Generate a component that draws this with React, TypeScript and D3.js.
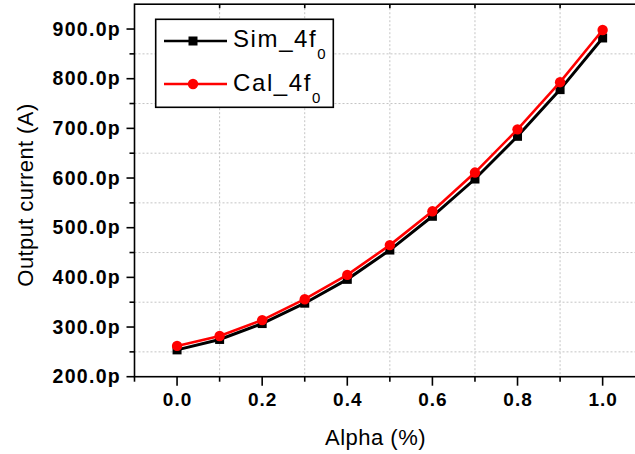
import React from "react";
import * as d3 from "d3";

const alpha = [0.0, 0.1, 0.2, 0.3, 0.4, 0.5, 0.6, 0.7, 0.8, 0.9, 1.0];
const simValues = [254, 275, 307, 348, 396, 455, 523, 598, 684, 778, 882];
const calValues = [262, 282, 314, 356, 405, 465, 533, 611, 698, 793, 898];
const xTickValues = [0.0, 0.2, 0.4, 0.6, 0.8, 1.0];
const xMinorValues = [-0.1, 0.1, 0.3, 0.5, 0.7, 0.9, 1.1];
const yTickValues = [200, 300, 400, 500, 600, 700, 800, 900];
const yMinorValues = [250, 350, 450, 550, 650, 750, 850];
const seriesNames = ["Sim_4f", "Cal_4f"];

const W = 635;
const H = 454;

export default function App() {
  const x = d3.scaleLinear().domain([-0.1, 1.1]).range([134.5, 645.2]);
  const y = d3.scaleLinear().domain([200, 950]).range([376.7, 4.2]);
  const line = d3
    .line<number>()
    .x((_, i) => x(alpha[i]))
    .y((d) => y(d));

  const x0 = x(-0.1);
  const x1 = x(1.1);
  const yb = y(200);
  const yt = y(950);
  const font = "Arial, 'Liberation Sans', sans-serif";

  return (
    <svg
      width={W}
      height={H}
      style={{ position: "absolute", left: 0, top: 0, background: "#fff" }}
      fontFamily={font}
    >
      <rect x={0} y={0} width={W} height={H} fill="#fff" />
      {/* grid */}
      {yMinorValues.map((v) => (
        <line
          key={"gy" + v}
          x1={x0}
          x2={x1}
          y1={y(v)}
          y2={y(v)}
          stroke="#c4c4c4"
          strokeWidth={1}
          strokeDasharray="2,2"
        />
      ))}
      {xMinorValues.slice(1, -1).map((v) => (
        <line
          key={"gx" + v}
          x1={x(v)}
          x2={x(v)}
          y1={yt}
          y2={yb}
          stroke="#c4c4c4"
          strokeWidth={1}
          strokeDasharray="2,2"
        />
      ))}
      {/* frame */}
      <rect x={x0} y={yt} width={x1 - x0} height={yb - yt} fill="none" stroke="#000" strokeWidth={1.6} />
      {/* left ticks */}
      {yTickValues.map((v) => (
        <line key={"ty" + v} x1={x0 - 8} x2={x0} y1={y(v)} y2={y(v)} stroke="#000" strokeWidth={1.6} />
      ))}
      {yMinorValues.map((v) => (
        <line key={"tym" + v} x1={x0 - 5} x2={x0} y1={y(v)} y2={y(v)} stroke="#000" strokeWidth={1.6} />
      ))}
      {/* bottom ticks */}
      {xTickValues.map((v) => (
        <line key={"tx" + v} x1={x(v)} x2={x(v)} y1={yb} y2={yb + 9} stroke="#000" strokeWidth={1.6} />
      ))}
      {xMinorValues.map((v) => (
        <line key={"txm" + v} x1={x(v)} x2={x(v)} y1={yb} y2={yb + 5} stroke="#000" strokeWidth={1.6} />
      ))}
      {/* top ticks */}
      {xMinorValues.slice(1, -1).map((v) => (
        <line key={"tt" + v} x1={x(v)} x2={x(v)} y1={yt} y2={yt + 4} stroke="#000" strokeWidth={1.6} />
      ))}
      {/* y tick labels */}
      {yTickValues.map((v) => (
        <text
          key={"ly" + v}
          x={121}
          y={y(v) + 6.5}
          textAnchor="end"
          fontSize={19.5}
          fontWeight="bold"
          letterSpacing={1.3}
        >
          {v.toFixed(1) + "p"}
        </text>
      ))}
      {/* x tick labels */}
      {xTickValues.map((v) => (
        <text
          key={"lx" + v}
          x={x(v) + 0.5}
          y={406}
          textAnchor="middle"
          fontSize={19}
          fontWeight="bold"
          letterSpacing={1}
        >
          {v.toFixed(1)}
        </text>
      ))}
      {/* axis titles */}
      <text x={375.5} y={445} textAnchor="middle" fontSize={22} letterSpacing={0.5}>
        Alpha (%)
      </text>
      <text
        transform={`translate(33, ${y(200) - (376.7 - 195)}) rotate(-90)`}
        textAnchor="middle"
        fontSize={22}
        letterSpacing={0.4}
      >
        Output current (A)
      </text>
      {/* series */}
      <path d={line(simValues) || ""} fill="none" stroke="#000" strokeWidth={3} />
      {simValues.map((v, i) => (
        <rect key={"s" + i} x={x(alpha[i]) - 4.5} y={y(v) - 4.5} width={9} height={9} fill="#000" />
      ))}
      <path d={line(calValues) || ""} fill="none" stroke="#ff0000" strokeWidth={2.6} />
      {calValues.map((v, i) => (
        <circle key={"c" + i} cx={x(alpha[i])} cy={y(v)} r={5.2} fill="#ff0000" />
      ))}
      {/* legend */}
      <rect x={155.7} y={19.3} width={177.6} height={88} fill="#fff" stroke="#000" strokeWidth={1.6} />
      <line x1={164} x2={227} y1={41} y2={41} stroke="#000" strokeWidth={2.5} />
      <rect x={193 - 4.5} y={41 - 4.5} width={9} height={9} fill="#000" />
      <line x1={164} x2={227} y1={84} y2={84} stroke="#ff0000" strokeWidth={2.5} />
      <circle cx={193} cy={84} r={5.2} fill="#ff0000" />
      {seriesNames.map((name, i) => (
        <text key={"lg" + i} x={233} y={[47, 91][i]} fontSize={24} letterSpacing={1.6}>
          {name}
          <tspan dy={12} fontSize={15} letterSpacing={0}>
            0
          </tspan>
        </text>
      ))}
    </svg>
  );
}
